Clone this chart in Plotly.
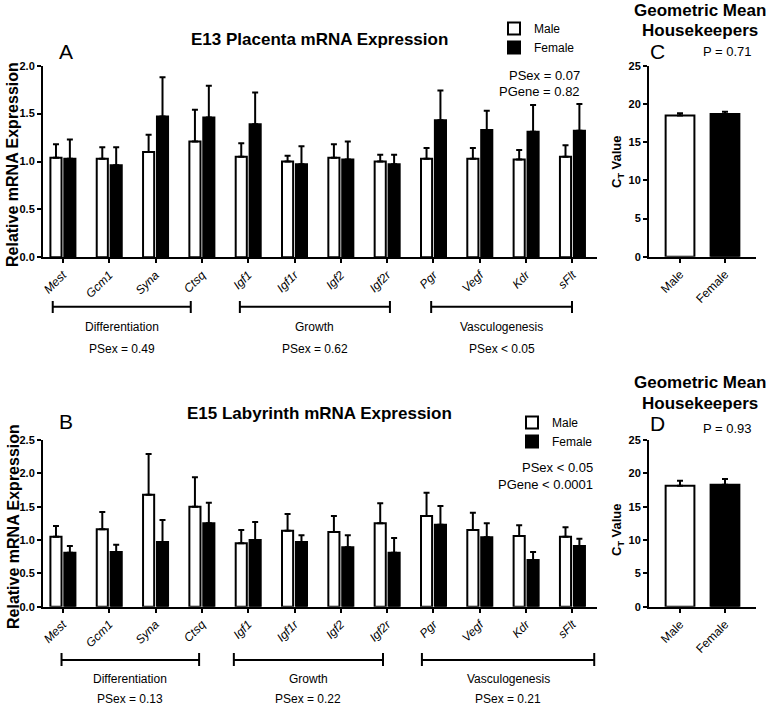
import plotly.graph_objects as go

W, H = 776, 707

genes = ["Mest", "Gcm1", "Syna", "Ctsq", "Igf1", "Igf1r", "Igf2", "Igf2r", "Pgr", "Vegf", "Kdr", "sFlt"]

# Panel A: E13 placenta, relative expression (mean and SEM)
a_male = [1.04, 1.03, 1.10, 1.21, 1.05, 1.00, 1.04, 1.00, 1.03, 1.03, 1.02, 1.05]
a_male_sem = [0.14, 0.12, 0.18, 0.33, 0.14, 0.06, 0.14, 0.07, 0.11, 0.11, 0.10, 0.12]
a_female = [1.03, 0.96, 1.47, 1.46, 1.39, 0.97, 1.02, 0.97, 1.43, 1.33, 1.31, 1.32]
a_female_sem = [0.20, 0.19, 0.41, 0.33, 0.33, 0.19, 0.19, 0.10, 0.31, 0.20, 0.28, 0.28]

# Panel B: E15 labyrinth
b_male = [1.05, 1.16, 1.68, 1.50, 0.95, 1.14, 1.12, 1.25, 1.36, 1.15, 1.06, 1.05]
b_male_sem = [0.16, 0.26, 0.61, 0.44, 0.20, 0.25, 0.24, 0.30, 0.35, 0.26, 0.16, 0.14]
b_female = [0.81, 0.82, 0.97, 1.25, 1.00, 0.97, 0.89, 0.81, 1.23, 1.04, 0.70, 0.91]
b_female_sem = [0.10, 0.11, 0.33, 0.31, 0.27, 0.10, 0.18, 0.22, 0.28, 0.21, 0.12, 0.11]

# Panels C / D: geometric mean of housekeepers (Ct)
sexes = ["Male", "Female"]
c_ct = [18.5, 18.7]
c_sem = [0.3, 0.3]
d_ct = [18.15, 18.3]
d_sem = [0.75, 0.85]

# Gene groups (label, start, end in category units) and stats
groups = ["Differentiation", "Growth", "Vasculogenesis"]
a_group_span = [(-0.22, 2.76), (3.82, 7.06), (7.95, 10.99)]
b_group_span = [(-0.03, 2.94), (3.69, 6.91), (7.75, 11.47)]
a_group_p = ["PSex = 0.49", "PSex = 0.62", "PSex < 0.05"]
b_group_p = ["PSex = 0.13", "PSex = 0.22", "PSex = 0.21"]

FONT = "Liberation Sans, Arial, Helvetica, sans-serif"


def px_x(p):
    return p / W


def px_y(p):
    return 1 - p / H


fig = go.Figure()


def add_pair(male, msem, female, fsem, xa, ya, legend):
    fig.add_trace(go.Bar(
        x=genes, y=male, name="Male", xaxis=xa, yaxis=ya, legend=legend,
        marker=dict(color="white", line=dict(color="black", width=2)),
        error_y=dict(type="data", symmetric=False, array=msem, arrayminus=[0] * len(msem),
                     color="black", thickness=2, width=3),
    ))
    fig.add_trace(go.Bar(
        x=genes, y=female, name="Female", xaxis=xa, yaxis=ya, legend=legend,
        marker=dict(color="black", line=dict(color="black", width=2)),
        error_y=dict(type="data", symmetric=False, array=fsem, arrayminus=[0] * len(fsem),
                     color="black", thickness=2, width=3),
    ))


add_pair(a_male, a_male_sem, a_female, a_female_sem, "x", "y", "legend")
add_pair(b_male, b_male_sem, b_female, b_female_sem, "x2", "y2", "legend2")

for xa, ya, vals, sems in [("x3", "y3", c_ct, c_sem), ("x4", "y4", d_ct, d_sem)]:
    fig.add_trace(go.Bar(
        x=sexes, y=vals, xaxis=xa, yaxis=ya, showlegend=False, width=0.64,
        marker=dict(color=["white", "black"], line=dict(color="black", width=2)),
        error_y=dict(type="data", symmetric=False, array=sems, arrayminus=[0, 0],
                     color="black", thickness=2, width=3),
    ))

axis_common = dict(showline=True, linecolor="black", linewidth=2, ticks="outside",
                   tickcolor="black", tickwidth=2, ticklen=4, showgrid=False, zeroline=False)

xgene = dict(axis_common, range=[-0.43, 11.53], tickangle=-45,
             tickfont=dict(family=FONT, size=12, color="black", style="italic"))
ybold = dict(family=FONT, size=11, color="black", weight="bold")

fig.update_layout(
    width=W, height=H, margin=dict(l=0, r=0, t=0, b=0, autoexpand=False),
    paper_bgcolor="white", plot_bgcolor="white",
    barmode="group", bargap=0.4, bargroupgap=0.2,
    font=dict(family=FONT, color="black"),
    xaxis=dict(xgene, domain=[px_x(43), px_x(597)], anchor="y"),
    yaxis=dict(axis_common, domain=[px_y(257.3), px_y(65.7)], anchor="x",
               range=[0, 2.0], tickvals=[0, 0.5, 1.0, 1.5, 2.0], tickformat=".1f", tickfont=ybold),
    xaxis2=dict(xgene, domain=[px_x(43), px_x(597)], anchor="y2"),
    yaxis2=dict(axis_common, domain=[px_y(606.7), px_y(440)], anchor="x2",
                range=[0, 2.5], tickvals=[0, 0.5, 1.0, 1.5, 2.0, 2.5], tickformat=".1f", tickfont=ybold),
    xaxis3=dict(axis_common, domain=[px_x(649), px_x(756)], anchor="y3", range=[-0.69, 1.69],
                tickangle=-45, tickfont=dict(family=FONT, size=12, color="black")),
    yaxis3=dict(axis_common, domain=[px_y(256.7), px_y(66)], anchor="x3",
                range=[0, 25], tickvals=[0, 5, 10, 15, 20, 25], tickfont=ybold),
    xaxis4=dict(axis_common, domain=[px_x(649), px_x(756)], anchor="y4", range=[-0.69, 1.69],
                tickangle=-45, tickfont=dict(family=FONT, size=12, color="black")),
    yaxis4=dict(axis_common, domain=[px_y(606.7), px_y(440)], anchor="x4",
                range=[0, 25], tickvals=[0, 5, 10, 15, 20, 25], tickfont=ybold),
    legend=dict(x=px_x(494), y=px_y(14), xanchor="left", yanchor="top",
                font=dict(family=FONT, size=12, color="black"), bgcolor="rgba(0,0,0,0)",
                itemwidth=30, tracegroupgap=0),
    legend2=dict(x=px_x(512), y=px_y(408), xanchor="left", yanchor="top",
                 font=dict(family=FONT, size=12, color="black"), bgcolor="rgba(0,0,0,0)",
                 itemwidth=30, tracegroupgap=0),
)

ann = []


def text(x, y, s, size=12, bold=False, xanchor="center", angle=0):
    ann.append(dict(x=px_x(x), y=px_y(y), xref="paper", yref="paper", text=s, showarrow=False,
                    xanchor=xanchor, yanchor="middle", textangle=angle,
                    font=dict(family=FONT, size=size, color="black", weight="bold" if bold else "normal")))


# Panel letters
text(57, 52, "A", 21, xanchor="left")
text(57, 422, "B", 21, xanchor="left")
text(648, 52, "C", 21, xanchor="left")
text(648, 424, "D", 21, xanchor="left")

# Titles
text(319, 39, "E13 Placenta mRNA Expression", 17, True)
text(319, 413, "E15 Labyrinth mRNA Expression", 17, True)
text(700, 10, "Geometric Mean", 17, True)
text(700, 30, "Housekeepers", 17, True)
text(700, 382, "Geometric Mean", 17, True)
text(700, 403, "Housekeepers", 17, True)

# Stats
text(582, 75, "PSex = 0.07", 13, xanchor="right")
text(582, 91, "PGene = 0.82", 13, xanchor="right")
text(595, 467, "PSex < 0.05", 13, xanchor="right")
text(595, 484, "PGene < 0.0001", 13, xanchor="right")
text(727, 52, "P = 0.71", 13)
text(727, 428, "P = 0.93", 13)

# Axis titles
text(13, 165, "Relative mRNA Expression", 16, True, angle=-90)
text(13, 527, "Relative mRNA Expression", 16, True, angle=-90)
text(617, 162, "C<sub>T</sub> Value", 13, True, angle=-90)
text(617, 530, "C<sub>T</sub> Value", 13, True, angle=-90)

shapes = []
for spans, labels, ps, xr, ybar, yt0, yt1, ylab, yp in [
    (a_group_span, groups, a_group_p, "x", 306.7, 301, 313, 327, 349),
    (b_group_span, groups, b_group_p, "x2", 660, 653, 666, 679, 699),
]:
    for (s0, s1), lab, p in zip(spans, labels, ps):
        line = dict(color="black", width=2)
        shapes.append(dict(type="line", xref=xr, yref="paper", x0=s0, x1=s1,
                           y0=px_y(ybar), y1=px_y(ybar), line=line))
        for sx in (s0, s1):
            shapes.append(dict(type="line", xref=xr, yref="paper", x0=sx, x1=sx,
                               y0=px_y(yt0), y1=px_y(yt1), line=line))
        ann.append(dict(x=(s0 + s1) / 2, y=px_y(ylab), xref=xr, yref="paper", text=lab,
                        showarrow=False, yanchor="middle",
                        font=dict(family=FONT, size=12, color="black")))
        ann.append(dict(x=(s0 + s1) / 2, y=px_y(yp), xref=xr, yref="paper", text=p,
                        showarrow=False, yanchor="middle",
                        font=dict(family=FONT, size=12, color="black")))

fig.update_layout(annotations=ann, shapes=shapes)
# remove the default 8px page margin so the figure fills the window exactly
fig.write_html("out.html", config={"displayModeBar": False},
               post_script="document.body.style.margin='0';")
